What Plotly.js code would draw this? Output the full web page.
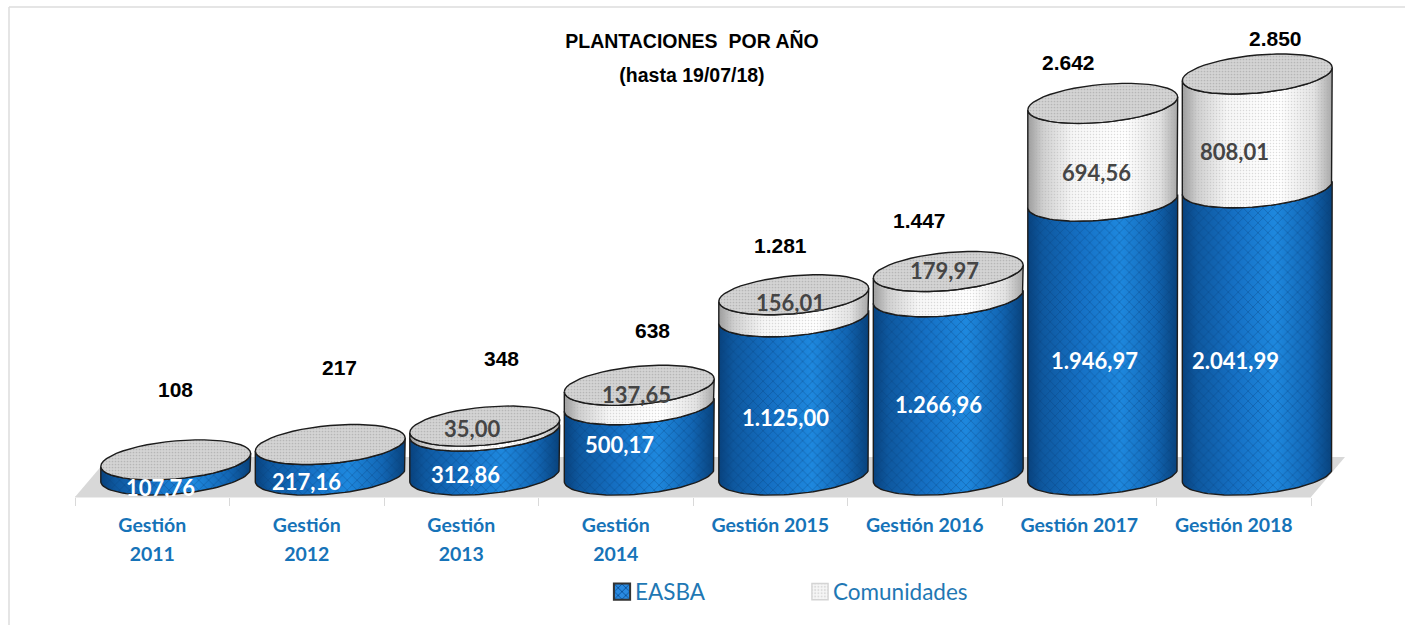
<!DOCTYPE html>
<html>
<head>
<meta charset="utf-8">
<script src="https://cdn.plot.ly/plotly-3.0.1.min.js"></script>
<style>html,body{margin:0;padding:0;background:#fff}#chart{width:1411px;height:631px}</style>
</head>
<body>
<div id="chart"></div>
<script>
// ---- data ----
var categories = ["Gestión<br>2011","Gestión<br>2012","Gestión<br>2013","Gestión<br>2014","Gestión 2015","Gestión 2016","Gestión 2017","Gestión 2018"];
var easba      = [107.76, 217.16, 312.86, 500.17, 1125.00, 1266.96, 1946.97, 2041.99];
var comunidades= [0, 0, 35.00, 137.65, 156.01, 179.97, 694.56, 808.01];
var totals     = [108, 217, 348, 638, 1281, 1447, 2642, 2850];

// ---- label nudges in pixels (x, y up), separate from the data ----
var easbaShiftX = [8, 0, 4, 4, 15, 14, 15, 2];
var easbaShiftY = [-20, -22, -21, -5, -22, -19, -22, -29];
var comShiftX   = [0, 0, 11, 21, 20, 20, 17, 1];
var comShiftY   = [0, 0, 0, 0, 3, 14, -20, -21];
var totShiftX   = [23, 33, 40, 37, 10, -5, -11, 42];
var totShiftY   = [70, 77, 68, 55, 49, 51, 41, 36];

// ---- geometry of the 3D look, in axis units ----
var margin = {l:75, r:69, t:10, b:134};
var plotW = 1267;
var xRange = [-0.5, 7.7006];
var yRange = [-156, 3305];
var cylOffset = 0.152;   // 3D shift of a cylinder from its category
var halfW = 0.485;       // half width of a cylinder
var tilt = 46, halfH = 135; // ellipse tilt and half height
var N = 48;

var BLUE_GRAD = [[0,'#08427e'],[0.1,'#0e589f'],[0.35,'#1570c4'],[0.62,'#1e88de'],[0.85,'#1266b4'],[1,'#08427c']];
var GRAY_GRAD = [[0,'#9c9c9c'],[0.1,'#cfcfcf'],[0.3,'#f6f6f6'],[0.65,'#ffffff'],[0.88,'#e2e2e2'],[1,'#a8a8a8']];
var OUTLINE = '#1c1c1c';
var positions = categories.map(function(c, i){ return i; });
var boundaries = [-0.5,0.5,1.5,2.5,3.5,4.5,5.5,6.5,7.5];

function arc(i, v, from, to) {
  var xs = [], ys = [];
  for (var k = 0; k <= N; k++) {
    var t = from + (to - from) * k / N;
    xs.push(i + cylOffset - halfW * Math.cos(t));
    ys.push(v - tilt * Math.cos(t) - halfH * Math.sin(t));
  }
  return {x: xs, y: ys};
}
function band(i, low, high) {
  var top = arc(i, high, 0, Math.PI), bot = arc(i, low, Math.PI, 0);
  return {x: top.x.concat(bot.x, [top.x[0]]), y: top.y.concat(bot.y, [top.y[0]])};
}
function fmt(v, dec) {
  var s = v.toFixed(dec).split('.');
  s[0] = s[0].replace(/\B(?=(\d{3})+(?!\d))/g, '.');
  return s.join(',');
}

var traces = [];
// real stacked bars (they also supply the legend); the cylinders sit on top of them
traces.push({type:'bar', name:'EASBA', x:positions, y:easba, width:0.6, offset:cylOffset-0.3,
  marker:{color:'#1a78d0', line:{color:'#333', width:1.5}, pattern:{shape:'x', size:5, solidity:0.3, fgcolor:'#0b4f96', bgcolor:'#2a8ae0'}},
  hovertemplate:'%{y}<extra>EASBA</extra>'});
traces.push({type:'bar', name:'Comunidades', x:positions, y:comunidades, width:0.6, offset:cylOffset-0.3,
  marker:{color:'#f2f2f2', line:{color:'#d4d4d4', width:1}, pattern:{shape:'.', size:3, solidity:0.3, fgcolor:'#dcdcdc', bgcolor:'#f6f6f6'}},
  hovertemplate:'%{y}<extra>Comunidades</extra>'});

function poly(p, extra) {
  var o = {type:'scatter', mode:'lines', x:p.x, y:p.y, fill:'toself', showlegend:false, hoverinfo:'skip', line:{width:0, color:'rgba(0,0,0,0)'}};
  for (var k in extra) o[k] = extra[k];
  return o;
}
categories.forEach(function(c, i) {
  var e = easba[i], t = e + comunidades[i];
  var b1 = band(i, 0, e);
  traces.push(poly(b1, {fillgradient:{type:'horizontal', colorscale:BLUE_GRAD}, fillcolor:'#1570c4'}));
  traces.push(poly(b1, {fillcolor:'rgba(0,0,0,0)', fillpattern:{shape:'x', size:7, solidity:0.2, fgcolor:'rgba(8,60,120,0.45)', bgcolor:'rgba(0,0,0,0)'},
    line:{width:1.4, color:OUTLINE}}));
  if (comunidades[i] > 0) {
    var b2 = band(i, e, t);
    traces.push(poly(b2, {fillgradient:{type:'horizontal', colorscale:GRAY_GRAD}, fillcolor:'#eee'}));
    traces.push(poly(b2, {fillcolor:'rgba(0,0,0,0)', fillpattern:{shape:'.', size:3, solidity:0.2, fgcolor:'rgba(170,170,170,0.4)', bgcolor:'rgba(0,0,0,0)'},
      line:{width:1.4, color:OUTLINE}}));
  }
  traces.push(poly(arc(i, t, 0, 2 * Math.PI), {fillcolor:'#cfcfcf', fillpattern:{shape:'.', size:3, solidity:0.25, fgcolor:'#b6b6b6', bgcolor:'#d4d4d4'},
    line:{width:1.4, color:OUTLINE}}));
});

var annotations = [];
var labelFont = 'Lato, sans-serif';
categories.forEach(function(c, i) {
  annotations.push({xref:'x', yref:'y', x:i, y:easba[i]/2, xshift:easbaShiftX[i], yshift:easbaShiftY[i], showarrow:false,
    text:'<b>'+fmt(easba[i],2)+'</b>', font:{family:labelFont, size:22, color:'#ffffff'}});
  if (comunidades[i] > 0) {
    annotations.push({xref:'x', yref:'y', x:i, y:easba[i]+comunidades[i]/2, xshift:comShiftX[i], yshift:comShiftY[i], showarrow:false,
      text:'<b>'+fmt(comunidades[i],2)+'</b>', font:{family:labelFont, size:22, color:'#454545'}});
  }
  annotations.push({xref:'x', yref:'y', x:i, y:totals[i], xshift:totShiftX[i], yshift:totShiftY[i], showarrow:false,
    text:'<b>'+fmt(totals[i],0)+'</b>', font:{family:'"Liberation Sans", Arial, sans-serif', size:21, color:'#000'}});
});

function px(x){ return (x - margin.l) / plotW; }
function py(y){ return (497 - y) / 487; }

var layout = {
  width:1411, height:631, margin:margin, paper_bgcolor:'#fff', plot_bgcolor:'rgba(0,0,0,0)',
  barmode:'stack', showlegend:true, hovermode:'closest',
  title:{text:'<b>PLANTACIONES  POR AÑO</b><br><b>(hasta 19/07/18)</b>', x:692/1411, xanchor:'center', y:1-48/631, yanchor:'top',
    font:{family:'"Liberation Sans", Arial, sans-serif', size:19.5, color:'#000'}},
  xaxis:{range:xRange, tickmode:'array', tickvals:positions, ticktext:categories, ticks:'',
    minor:{tickmode:'array', tickvals:boundaries, ticks:'outside', ticklen:8, tickcolor:'#d9d9d9', tickwidth:1, showgrid:false},
    showline:false, showgrid:false, zeroline:false, ticklabelstandoff:14,
    tickfont:{family:labelFont, size:19.5, color:'#1673b8', weight:700}, tickangle:0},
  yaxis:{range:yRange, visible:false, showgrid:false, zeroline:false},
  legend:{orientation:'h', x:px(595), xanchor:'left', y:py(592), yanchor:'middle', entrywidth:153, entrywidthmode:'pixels', traceorder:'normal', itemwidth:30,
    font:{family:labelFont, size:22.5, color:'#1f78b4'}, bgcolor:'rgba(0,0,0,0)'},
  annotations:annotations,
  shapes:[
    {type:'path', layer:'below', xref:'paper', yref:'paper', line:{width:0},
     path:'M'+px(75)+','+py(497)+' L'+px(1311)+','+py(497)+' L'+px(1345)+','+py(457)+' L'+px(109)+','+py(457)+' Z',
     fillcolor:'#d8d8d8'},
    {type:'line', layer:'below', xref:'x', yref:'paper', x0:boundaries[0], x1:boundaries[8], y0:0, y1:0, line:{color:'#d9d9d9', width:1}},
    {type:'line', layer:'below', xref:'paper', yref:'paper', x0:px(9), x1:px(1405), y0:py(7), y1:py(7), line:{color:'#dddddd', width:1.5}},
    {type:'line', layer:'below', xref:'paper', yref:'paper', x0:px(9), x1:px(9), y0:py(7), y1:py(625), line:{color:'#dddddd', width:1.5}}
  ]
};

function spaceLines(sel, k) {
  document.querySelectorAll(sel).forEach(function(text){
    text.querySelectorAll('tspan.line').forEach(function(t, i){ t.setAttribute('dy', (i * k) + 'em'); });
  });
}
Plotly.newPlot('chart', traces, layout, {displayModeBar:false, responsive:false}).then(function(gd){
  // wider line spacing on the two-line labels, as in the reference
  spaceLines('.xtick text', 1.49);
  spaceLines('.gtitle', 1.75);
  gd.querySelectorAll('.legend .legendpoints path').forEach(function(p){ p.setAttribute('transform','translate(27,0) scale(1.35)'); });
});
</script>
</body>
</html>
